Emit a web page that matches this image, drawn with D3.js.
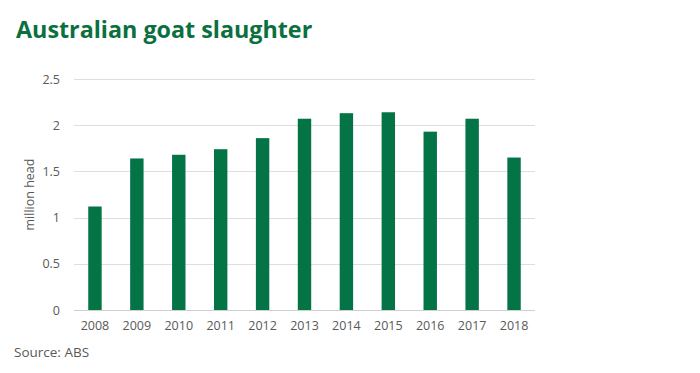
<!DOCTYPE html>
<meta charset="utf-8">
<style>
  body { margin: 0; background: #fff; }
  text { font-family: "Open Sans", "Liberation Sans", sans-serif; }
</style>
<svg width="700" height="373"></svg>
<script src="https://cdn.jsdelivr.net/npm/d3@7"></script>
<script>
  // chart data
  var years = ["2008", "2009", "2010", "2011", "2012", "2013", "2014", "2015", "2016", "2017", "2018"];
  var slaughter = [1.12, 1.64, 1.68, 1.74, 1.86, 2.07, 2.13, 2.14, 1.93, 2.07, 1.65];
  var yTicks = [0, 0.5, 1, 1.5, 2, 2.5];

  var svg = d3.select("svg"),
      margin = {top: 79, right: 165, bottom: 63, left: 74},
      width = +svg.attr("width") - margin.left - margin.right,
      height = +svg.attr("height") - margin.top - margin.bottom,
      g = svg.append("g").attr("transform", "translate(" + margin.left + "," + margin.top + ")");

  var x = d3.scaleBand().domain(years).range([0, width]).paddingInner(0.68).paddingOuter(0.34);
  var y = d3.scaleLinear().domain([0, 2.5]).range([height, 0]);

  // title
  svg.append("text")
      .attr("x", 16).attr("y", 38)
      .attr("fill", "#0b7040")
      .attr("font-size", 23.3).attr("font-weight", "bold")
      .text("Australian goat slaughter");

  // gridlines
  g.append("g").selectAll("line")
    .data(yTicks)
    .enter().append("line")
      .attr("x1", 0).attr("x2", width)
      .attr("y1", function(d) { return Math.round(y(d)) + 0.5; })
      .attr("y2", function(d) { return Math.round(y(d)) + 0.5; })
      .attr("stroke", function(d) { return d === 0 ? "#cfcfcf" : "#dedede"; })
      .attr("stroke-width", 1);

  // bars
  g.append("g").selectAll("rect")
    .data(slaughter)
    .enter().append("rect")
      .attr("x", function(d, i) { return x(years[i]); })
      .attr("y", function(d) { return y(d); })
      .attr("width", x.bandwidth())
      .attr("height", function(d) { return height - y(d); })
      .attr("fill", "#047346");

  // y axis
  var yAxis = g.append("g")
      .call(d3.axisLeft(y).tickValues(yTicks).tickSize(0).tickPadding(14).tickFormat(d3.format("")));
  yAxis.select(".domain").remove();
  yAxis.selectAll("text").attr("fill", "#595959").attr("font-size", 12.5).style("font-family", "'Open Sans', sans-serif");

  // x axis
  var xAxis = g.append("g")
      .attr("transform", "translate(0," + height + ")")
      .call(d3.axisBottom(x).tickSize(0).tickPadding(11));
  xAxis.select(".domain").remove();
  xAxis.selectAll("text").attr("fill", "#595959").attr("font-size", 12.5).style("font-family", "'Open Sans', sans-serif");

  // y axis label
  svg.append("text")
      .attr("transform", "translate(34," + (margin.top + height / 2) + ") rotate(-90)")
      .attr("text-anchor", "middle")
      .attr("fill", "#595959")
      .attr("font-size", 12.5)
      .text("million head");

  // source
  svg.append("text")
      .attr("x", 14).attr("y", 357)
      .attr("fill", "#595959")
      .attr("font-size", 13.5)
      .text("Source: ABS");
</script>
